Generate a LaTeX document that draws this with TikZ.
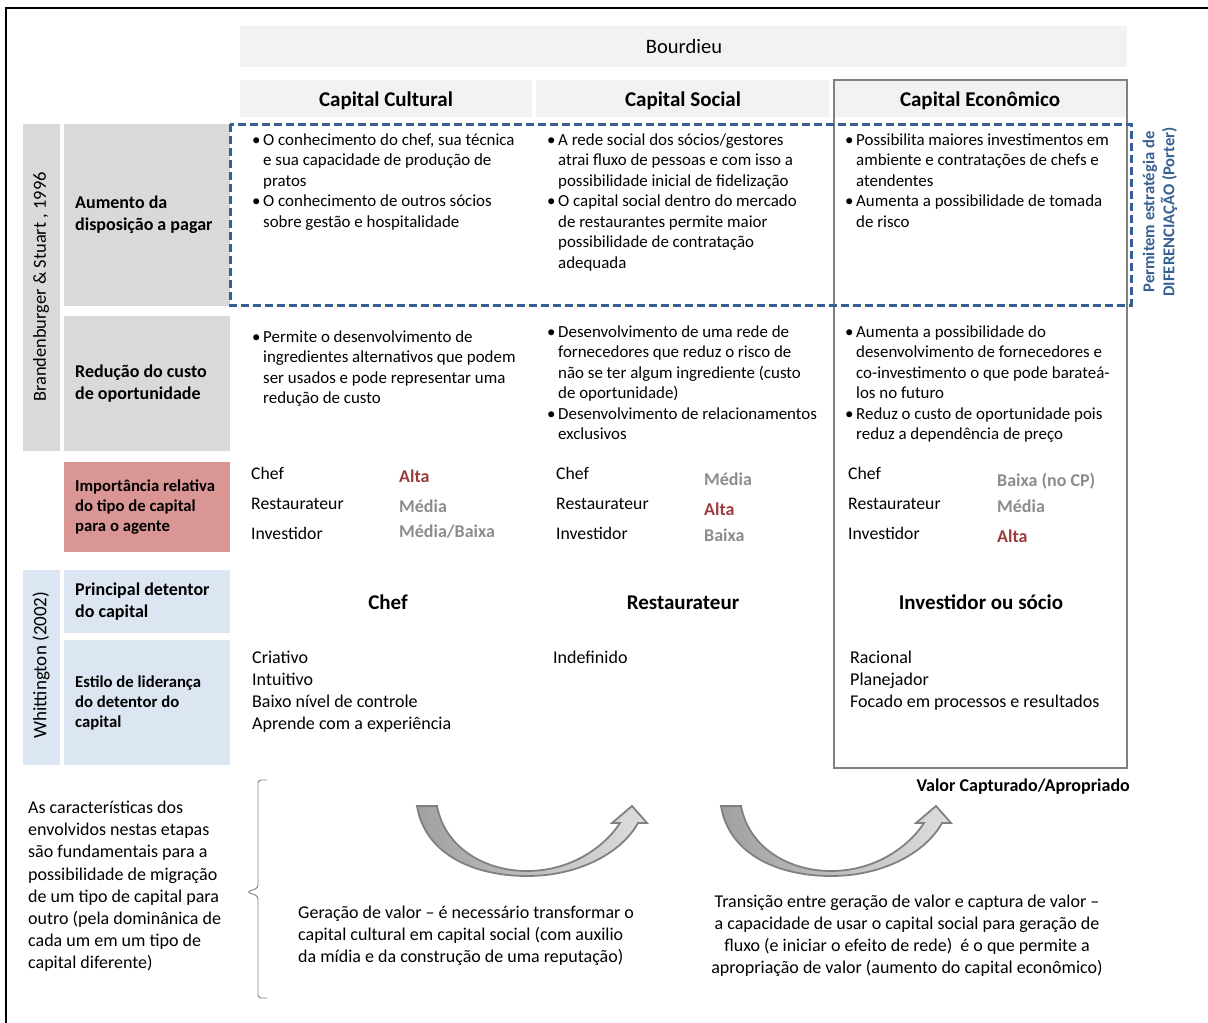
\documentclass[tikz,border=0pt]{standalone}
\usepackage{fontspec}
\setmainfont{Carlito}

\definecolor{hdrgray}{HTML}{F2F2F2}
\definecolor{lblgray}{HTML}{D9D9D9}
\definecolor{lblred}{HTML}{DA9694}
\definecolor{lblblue}{HTML}{DCE6F2}
\definecolor{diffblue}{HTML}{376092}
\definecolor{altared}{HTML}{9B3B3B}
\definecolor{midgray}{HTML}{8C8C8C}
\definecolor{econgray}{HTML}{808080}
\definecolor{arrdark}{HTML}{A0A0A0}
\definecolor{arrlight}{HTML}{DEDEDE}

\newcommand\bl{\makebox[11pt][l]{\textbullet}}
\newcommand\ct{\hspace*{11pt}}
\newcommand\txtlines[1]{\begin{tabular}[t]{@{}l@{}}#1\end{tabular}}
\newcommand\txtcenter[1]{\begin{tabular}[t]{@{}c@{}}#1\end{tabular}}

\begin{document}
\begin{tikzpicture}[x=1pt,y=-1pt,
  body/.style={font=\fontsize{16.9}{20.5}\selectfont, anchor=base west, inner sep=0},
  txt/.style={font=\fontsize{18}{22.2}\selectfont, anchor=base west, inner sep=0},
  rowlbl/.style={font=\bfseries\fontsize{18}{22}\selectfont, anchor=west, align=left, inner sep=0},
  rowlblsm/.style={rowlbl, font=\bfseries\fontsize{16.7}{20}\selectfont},
  colhead/.style={font=\bfseries\fontsize{21}{24}\selectfont, anchor=base, inner sep=0},
  hival/.style={font=\bfseries\fontsize{18}{22}\selectfont, anchor=base west, inner sep=0, text=altared},
  midval/.style={hival, text=midgray},
  vlbl/.style={font=\fontsize{18.4}{22}\selectfont, rotate=90, inner sep=0},
  arrowshape/.style={draw=econgray, line width=1.8, left color=arrdark, right color=arrlight}]
  \useasboundingbox (0,0) rectangle (1208,1023);

  % Frame
  \draw[line width=2.3] (6,8) rectangle (1220,1035);

  % Headers
  \fill[hdrgray] (240,26) rectangle (1127,67);
  \fill[hdrgray] (240,80) rectangle (532,117);
  \fill[hdrgray] (536,80) rectangle (829,117);
  \fill[hdrgray] (834,80) rectangle (1127,117);
  \node[colhead, font=\fontsize{20.5}{24}\selectfont] (bourdieu) at (684,53) {Bourdieu};
  \node[colhead] (hcult) at (386,106) {Capital Cultural};
  \node[colhead] (hsoc)  at (683,106) {Capital Social};
  \node[colhead] (hecon) at (980,106) {Capital Econômico};

  % Row labels
  \fill[lblgray] (23,124) rectangle (60,451);
  \fill[lblgray] (64,124) rectangle (230,306);
  \fill[lblgray] (64,316) rectangle (230,451);
  \fill[lblred]  (64,462) rectangle (230,552);
  \fill[lblblue] (23,570) rectangle (60,765);
  \fill[lblblue] (64,570) rectangle (230,633);
  \fill[lblblue] (64,640) rectangle (230,765);
  \node[vlbl] (brand) at (41,287) {Brandenburger \& Stuart , 1996};
  \node[vlbl, font=\fontsize{19}{22}\selectfont] (whit) at (41,665) {Whittington (2002)};
  \node[rowlbl]   (laum)  at (75,215)   {Aumento da\\disposição a pagar};
  \node[rowlbl]   (lred)  at (75,384)   {Redução do custo\\de oportunidade};
  \node[rowlblsm] (limp)  at (75,507)   {Importância relativa\\do tipo de capital\\para o agente};
  \node[rowlbl]   (lprin) at (75,602)   {Principal detentor\\do capital};
  \node[rowlblsm] (lest)  at (75,703)   {Estilo de liderança\\do detentor do\\capital};

  % Economic column frame and differentiation box
  \draw[econgray, line width=2.5] (834,80) rectangle (1127,768);
  \draw[diffblue, line width=3, dash pattern=on 8pt off 4pt] (230,124) rectangle (1131,305);
  \node[font=\bfseries\fontsize{16.6}{20}\selectfont, text=diffblue, rotate=90, align=center, inner sep=0]
    (porter) at (1160,212) {Permitem estratégia de\\DIFERENCIAÇÃO (Porter)};

  % Aumento da disposicao a pagar
  \node[body] (aumcult) at (252,145) {\txtlines{\bl O conhecimento do chef, sua técnica\\
    \ct e sua capacidade de produção de\\ \ct pratos\\
    \bl O conhecimento de outros sócios\\ \ct sobre gestão e hospitalidade}};
  \node[body] (aumsoc) at (547,145) {\txtlines{\bl A rede social dos sócios/gestores\\
    \ct atrai fluxo de pessoas e com isso a\\ \ct possibilidade inicial de fidelização\\
    \bl O capital social dentro do mercado\\ \ct de restaurantes permite maior\\
    \ct possibilidade de contratação\\ \ct adequada}};
  \node[body] (aumecon) at (845,145) {\txtlines{\bl Possibilita maiores investimentos em\\
    \ct ambiente e contratações de chefs e\\ \ct atendentes\\
    \bl Aumenta a possibilidade de tomada\\ \ct de risco}};

  % Reducao do custo de oportunidade
  \node[body] (redcult) at (252,342) {\txtlines{\bl Permite o desenvolvimento de\\
    \ct ingredientes alternativos que podem\\ \ct ser usados e pode representar uma\\
    \ct redução de custo}};
  \node[body] (redsoc) at (547,337) {\txtlines{\bl Desenvolvimento de uma rede de\\
    \ct fornecedores que reduz o risco de\\ \ct não se ter algum ingrediente (custo\\
    \ct de oportunidade)\\ \bl Desenvolvimento de relacionamentos\\ \ct exclusivos}};
  \node[body] (redecon) at (845,337) {\txtlines{\bl Aumenta a possibilidade do\\
    \ct desenvolvimento de fornecedores e\\ \ct co-investimento o que pode barateá-\\
    \ct los no futuro\\ \bl Reduz o custo de oportunidade pois\\ \ct reduz a dependência de preço}};

  % Importancia relativa
  \node[txt, font=\fontsize{17.7}{30}\selectfont] (impcult) at (251,479.5) {\txtlines{Chef\\Restaurateur\\Investidor}};
  \node[txt, font=\fontsize{17.7}{30}\selectfont] (impsoc)  at (556,479.5) {\txtlines{Chef\\Restaurateur\\Investidor}};
  \node[txt, font=\fontsize{17.7}{30}\selectfont] (impecon) at (848,479.5) {\txtlines{Chef\\Restaurateur\\Investidor}};
  \node[hival]  (cultchef) at (399,482)   {Alta};
  \node[midval] (cultrest) at (399,512)   {Média};
  \node[midval] (cultinv)  at (399,537)   {Média/Baixa};
  \node[midval] (socchef)  at (704,485.5) {Média};
  \node[hival]  (socrest)  at (704,515.5) {Alta};
  \node[midval] (socinv)   at (704,541.5) {Baixa};
  \node[midval] (econchef) at (997,486)   {Baixa (no CP)};
  \node[midval] (econrest) at (997,512)   {Média};
  \node[hival]  (econinv)  at (997,542)   {Alta};

  % Principal detentor
  \node[colhead] (detcult) at (388,609) {Chef};
  \node[colhead] (detsoc)  at (683,609) {Restaurateur};
  \node[colhead] (detecon) at (981,609) {Investidor ou sócio};

  % Estilo de lideranca
  \node[txt] (estcult) at (252,663) {\txtlines{Criativo\\Intuitivo\\Baixo nível de controle\\Aprende com a experiência}};
  \node[txt] (estsoc)  at (553,663) {Indefinido};
  \node[txt] (estecon) at (850,663) {\txtlines{Racional\\Planejador\\Focado em processos e resultados}};

  % Bottom part
  \node[hival, text=black, anchor=base east] (valor) at (1130,791.5) {Valor Capturado/Apropriado};
  \node[txt] (carac) at (28,813.5) {\txtlines{As características dos\\envolvidos nestas etapas\\
    são fundamentais para a\\possibilidade de migração\\de um tipo de capital para\\
    outro (pela dominânica de\\cada um em um tipo de\\capital diferente)}};
  \draw[econgray, line width=0.9, rounded corners=3]
    (267,780) -- (258,780) -- (258,888) -- (247,892) -- (258,896) -- (258,998) -- (267,998);
  \node[txt] (geracao) at (298,918.5) {\txtlines{Geração de valor – é necessário transformar o\\
    capital cultural em capital social (com auxilio\\da mídia e da construção de uma reputação)}};
  \node[txt, anchor=base] (transicao) at (907,907) {\txtcenter{Transição entre geração de valor e captura de valor –\\
    a capacidade de usar o capital social para geração de\\fluxo (e iniciar o efeito de rede) \ é o que permite a\\
    apropriação de valor (aumento do capital econômico)}};

  % Curved arrows
  \foreach \dx in {0,304}
    \path[arrowshape, xshift=\dx]
      (417,806) .. controls (425,855) and (475,876) .. (527,876)
      .. controls (580,876) and (622,852) .. (638,823) -- (647,823) -- (632,806) -- (612,823) -- (620,823)
      .. controls (605,846) and (572,871) .. (527,871)
      .. controls (485,871) and (445,848) .. (437,806) -- cycle;
\end{tikzpicture}
\end{document}
